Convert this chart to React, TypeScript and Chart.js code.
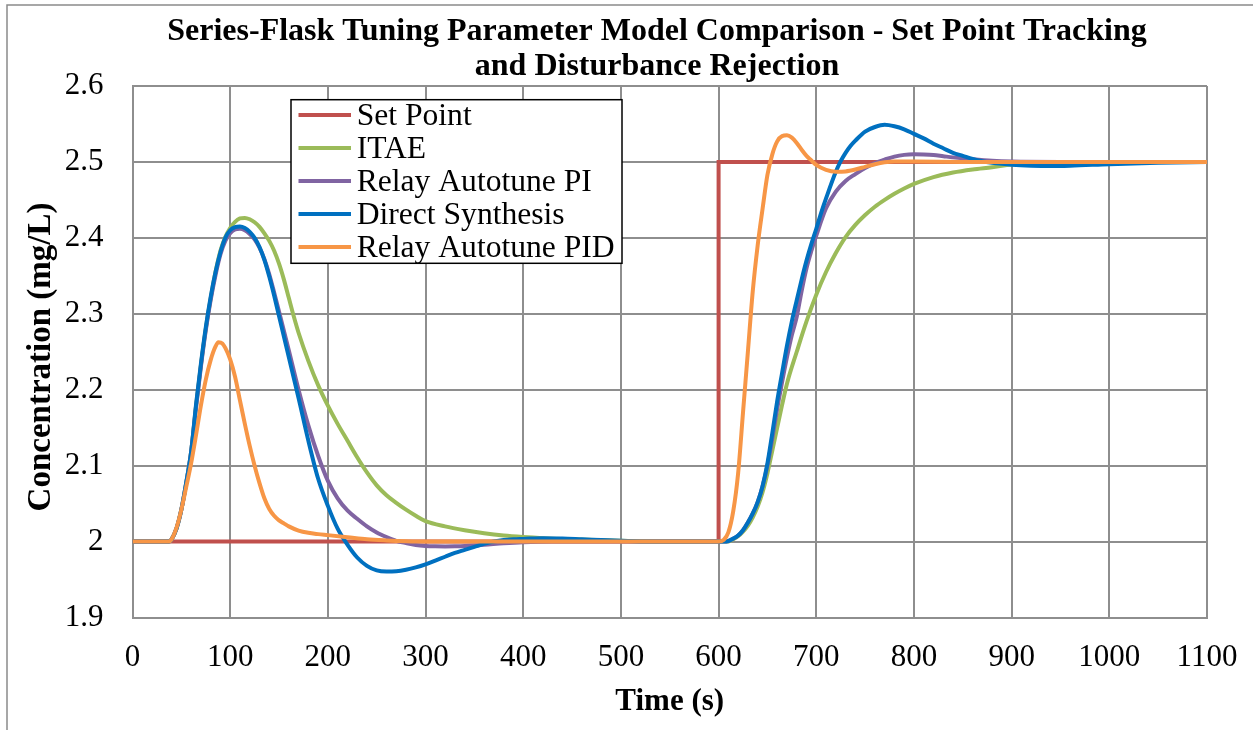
import React, { useEffect, useRef } from 'react';
import { Chart, registerables } from 'chart.js';

Chart.register(...registerables);

const TITLE_LINES = ['Series-Flask Tuning Parameter Model Comparison - Set Point Tracking', 'and Disturbance Rejection'];
const X_TITLE = 'Time (s)';
const Y_TITLE = 'Concentration (mg/L)';
const SERIES_NAMES = ['Set Point', 'ITAE', 'Relay Autotune PI', 'Direct Synthesis', 'Relay Autotune PID'];
const SERIES_COLORS = ['#C0504D', '#9BBB59', '#8064A2', '#0070C0', '#F79646'];

const X_MIN = 0;
const X_MAX = 1100;
const X_STEP = 100;
const Y_MIN = 1.9;
const Y_MAX = 2.6;
const Y_STEP = 0.1;

// Set Point
const SP_T = [0, 600, 600, 1100];
const SP_V = [2, 2, 2.5, 2.5];

// ITAE
const ITAE_T = [0, 30, 37, 40, 45, 50, 55, 60, 65, 70, 75, 80, 85, 90, 95, 100, 105, 110, 115, 120, 125, 130, 135, 140, 145, 150, 155, 160, 165, 170, 180, 190, 200, 210, 220, 230, 240, 250, 260, 270, 280, 290, 300, 320, 340, 360, 380, 400, 420, 450, 500, 550, 600, 610, 615, 620, 625, 630, 635, 640, 645, 650, 655, 660, 665, 670, 680, 690, 700, 710, 720, 730, 740, 750, 760, 770, 780, 790, 800, 820, 840, 860, 880, 900, 920, 950, 1000, 1050, 1100];
const ITAE_V = [2, 2, 2, 2.003, 2.017, 2.042, 2.077, 2.118, 2.178, 2.232, 2.28, 2.32, 2.355, 2.383, 2.401, 2.413, 2.421, 2.4255, 2.4263, 2.4245, 2.4205, 2.4145, 2.406, 2.396, 2.383, 2.366, 2.345, 2.321, 2.297, 2.275, 2.238, 2.206, 2.179, 2.155, 2.133, 2.111, 2.091, 2.074, 2.061, 2.051, 2.042, 2.034, 2.027, 2.02, 2.015, 2.011, 2.008, 2.006, 2.0045, 2.003, 2.001, 2.0, 2.0, 2.0, 2.003, 2.007, 2.013, 2.021, 2.032, 2.046, 2.065, 2.09, 2.12, 2.15, 2.18, 2.208, 2.25, 2.29, 2.325, 2.355, 2.38, 2.401, 2.417, 2.43, 2.441, 2.45, 2.458, 2.465, 2.471, 2.48, 2.486, 2.49, 2.493, 2.4965, 2.498, 2.499, 2.5, 2.5, 2.5];

// Relay Autotune PI
const PI_T = [0, 30, 37, 40, 45, 50, 55, 60, 65, 70, 75, 80, 85, 90, 95, 100, 105, 110, 115, 120, 125, 130, 135, 140, 145, 150, 160, 170, 180, 190, 200, 210, 220, 230, 240, 250, 260, 270, 280, 290, 300, 310, 320, 330, 340, 360, 380, 400, 430, 500, 600, 608, 615, 620, 625, 630, 635, 640, 645, 650, 655, 660, 665, 670, 675, 680, 685, 690, 695, 700, 710, 720, 730, 740, 750, 760, 770, 780, 790, 800, 810, 820, 830, 840, 860, 880, 900, 950, 1000, 1100];
const PI_V = [2, 2, 2, 2.003, 2.017, 2.042, 2.077, 2.118, 2.176, 2.23, 2.278, 2.318, 2.351, 2.378, 2.396, 2.406, 2.411, 2.412, 2.41, 2.405, 2.398, 2.387, 2.372, 2.352, 2.328, 2.303, 2.252, 2.2, 2.153, 2.113, 2.08, 2.057, 2.041, 2.03, 2.02, 2.012, 2.006, 2.001, 1.998, 1.9955, 1.9942, 1.9937, 1.9936, 1.9938, 1.9942, 1.9958, 1.9978, 1.9992, 2.0, 2.0, 2.0, 2.0, 2.004, 2.008, 2.015, 2.025, 2.037, 2.052, 2.073, 2.1, 2.136, 2.175, 2.21, 2.243, 2.272, 2.296, 2.33, 2.36, 2.383, 2.403, 2.439, 2.461, 2.475, 2.484, 2.492, 2.4985, 2.503, 2.507, 2.5093, 2.51, 2.5097, 2.509, 2.5075, 2.506, 2.5035, 2.5015, 2.5005, 2.5, 2.5, 2.5];

// Direct Synthesis
const DS_T = [0, 30, 37, 40, 45, 50, 55, 60, 65, 70, 75, 80, 85, 90, 95, 100, 105, 110, 115, 120, 125, 130, 135, 140, 145, 150, 160, 170, 180, 190, 200, 210, 220, 230, 240, 250, 260, 270, 280, 290, 300, 310, 320, 330, 340, 350, 360, 370, 380, 390, 400, 420, 440, 460, 480, 500, 530, 600, 608, 615, 620, 625, 630, 635, 640, 645, 650, 655, 660, 665, 670, 675, 680, 685, 690, 695, 700, 705, 710, 720, 725, 730, 735, 740, 750, 760, 770, 780, 790, 800, 810, 820, 830, 840, 850, 860, 870, 880, 890, 900, 920, 940, 960, 1000, 1050, 1100];
const DS_V = [2, 2, 2, 2.003, 2.017, 2.042, 2.078, 2.118, 2.18, 2.234, 2.282, 2.322, 2.355, 2.381, 2.4, 2.41, 2.414, 2.415, 2.413, 2.408, 2.4, 2.388, 2.371, 2.349, 2.324, 2.297, 2.243, 2.189, 2.133, 2.083, 2.047, 2.017, 1.996, 1.979, 1.968, 1.962, 1.9605, 1.961, 1.963, 1.966, 1.97, 1.975, 1.98, 1.985, 1.989, 1.993, 1.997, 2.0, 2.002, 2.003, 2.0035, 2.0045, 2.004, 2.003, 2.002, 2.001, 2.0, 2.0, 2.0, 2.004, 2.008, 2.015, 2.025, 2.037, 2.052, 2.073, 2.103, 2.143, 2.185, 2.222, 2.258, 2.29, 2.318, 2.345, 2.37, 2.392, 2.412, 2.433, 2.452, 2.487, 2.501, 2.512, 2.521, 2.528, 2.54, 2.546, 2.549, 2.547, 2.543, 2.537, 2.531, 2.524, 2.518, 2.512, 2.508, 2.504, 2.501, 2.499, 2.4975, 2.4963, 2.495, 2.4945, 2.495, 2.497, 2.499, 2.5];

// Relay Autotune PID
const PID_T = [0, 30, 37, 40, 45, 50, 55, 60, 65, 70, 75, 80, 85, 88, 92, 95, 100, 105, 110, 115, 120, 125, 130, 135, 140, 145, 150, 155, 160, 170, 180, 190, 200, 220, 240, 260, 280, 300, 600, 605, 610, 615, 620, 625, 630, 635, 640, 645, 650, 655, 660, 665, 670, 675, 680, 685, 690, 695, 700, 710, 720, 730, 740, 750, 760, 770, 780, 800, 850, 1100];
const PID_V = [2, 2, 2, 2.003, 2.018, 2.042, 2.072, 2.103, 2.14, 2.179, 2.213, 2.239, 2.257, 2.2625, 2.261, 2.255, 2.24, 2.217, 2.186, 2.155, 2.126, 2.1, 2.077, 2.057, 2.043, 2.034, 2.028, 2.024, 2.02, 2.0145, 2.0115, 2.0098, 2.0085, 2.0058, 2.003, 2.0015, 2.0005, 2.0, 2.0, 2.002, 2.012, 2.04, 2.09, 2.17, 2.25, 2.33, 2.39, 2.438, 2.483, 2.51, 2.527, 2.534, 2.535, 2.532, 2.525, 2.516, 2.508, 2.502, 2.496, 2.4895, 2.487, 2.4875, 2.49, 2.4935, 2.497, 2.4995, 2.5005, 2.5005, 2.5, 2.5];

const SERIES_T = [SP_T, ITAE_T, PI_T, DS_T, PID_T];
const SERIES_V = [SP_V, ITAE_V, PI_V, DS_V, PID_V];

const FONT = "'Liberation Serif', 'Times New Roman', serif";
const GRID = '#8e8e8e';

const decorPlugin = {
  id: 'decor',
  beforeDraw(chart: any) {
    const ctx = chart.ctx;
    ctx.save();
    ctx.fillStyle = '#ffffff';
    ctx.fillRect(0, 0, chart.width, chart.height);
    ctx.strokeStyle = '#8a8a8a';
    ctx.lineWidth = 1.5;
    ctx.beginPath();
    ctx.moveTo(7, chart.height + 5);
    ctx.lineTo(7, 5);
    ctx.lineTo(chart.width + 5, 5);
    ctx.stroke();
    ctx.restore();
  },
  afterDraw(chart: any) {
    const ctx = chart.ctx;
    const ca = chart.chartArea;
    ctx.save();
    ctx.fillStyle = '#000';
    // Title
    ctx.font = `bold 32px ${FONT}`;
    ctx.textAlign = 'center';
    ctx.textBaseline = 'alphabetic';
    ctx.fillText(TITLE_LINES[0], 657, 39.5);
    ctx.fillText(TITLE_LINES[1], 657, 74.5);
    // Axis titles
    ctx.font = `bold 31px ${FONT}`;
    ctx.fillText(X_TITLE, (ca.left + ca.right) / 2, 710);
    ctx.save();
    ctx.font = `bold 33px ${FONT}`;
    ctx.translate(50, 357);
    ctx.rotate(-Math.PI / 2);
    ctx.fillText(Y_TITLE, 0, 0);
    ctx.restore();
    // Legend
    const lx = ca.left + 158.5;
    const ly = ca.top + 13.7;
    const lw = 331;
    const lh = 163.6;
    ctx.fillStyle = '#fff';
    ctx.fillRect(lx, ly, lw, lh);
    ctx.strokeStyle = '#000';
    ctx.lineWidth = 1.5;
    ctx.strokeRect(lx, ly, lw, lh);
    ctx.font = `31.6px ${FONT}`;
    ctx.textAlign = 'left';
    for (let i = 0; i < SERIES_NAMES.length; i++) {
      const base = ly + 25.3 + 33 * i;
      ctx.strokeStyle = SERIES_COLORS[i];
      ctx.lineWidth = 4;
      ctx.beginPath();
      ctx.moveTo(lx + 7.5, base - 10);
      ctx.lineTo(lx + 60, base - 10);
      ctx.stroke();
      ctx.fillStyle = '#000';
      ctx.fillText(SERIES_NAMES[i], lx + 65.7, base);
    }
    ctx.restore();
  },
};

export default function App() {
  const ref = useRef<HTMLCanvasElement | null>(null);
  useEffect(() => {
    if (!ref.current) return;
    const datasets = SERIES_NAMES.map((name, i) => ({
      label: name,
      data: SERIES_T[i].map((t, j) => ({ x: t, y: SERIES_V[i][j] })),
      borderColor: SERIES_COLORS[i],
      backgroundColor: SERIES_COLORS[i],
      borderWidth: 4,
      pointRadius: 0,
      fill: false,
      tension: i === 0 ? 0 : 0.4,
      cubicInterpolationMode: i === 0 ? 'default' : 'monotone',
      order: SERIES_NAMES.length - i,
    }));
    const chart = new Chart(ref.current, {
      type: 'line',
      data: { datasets } as any,
      options: {
        responsive: false,
        animation: false,
        devicePixelRatio: 1,
        layout: { padding: { top: 86, left: 0, right: 46, bottom: 0 } },
        plugins: {
          legend: { display: false },
          title: { display: false },
          tooltip: { enabled: false },
        },
        scales: {
          x: {
            type: 'linear',
            min: X_MIN,
            max: X_MAX,
            grid: { color: GRID, lineWidth: 2, drawTicks: false },
            border: { color: GRID, width: 2 },
            ticks: {
              stepSize: X_STEP,
              autoSkip: false,
              maxRotation: 0,
              padding: 22,
              color: '#000',
              font: { family: FONT, size: 31 },
              callback: (v: any) => String(Math.round(Number(v))),
            },
            afterFit: (s: any) => {
              s.height = 112.5;
              s.paddingLeft = 0;
              s.paddingRight = 0;
            },
          },
          y: {
            type: 'linear',
            min: Y_MIN,
            max: Y_MAX,
            grid: { color: GRID, lineWidth: 2, drawTicks: false },
            border: { color: GRID, width: 2 },
            ticks: {
              stepSize: Y_STEP,
              padding: 29,
              color: '#000',
              font: { family: FONT, size: 31 },
              callback: (v: any) => String(Number(Number(v).toFixed(1))),
            },
            afterFit: (s: any) => {
              s.width = 132.5;
              s.paddingTop = 0;
              s.paddingBottom = 0;
            },
          },
        },
      } as any,
      plugins: [decorPlugin],
    });
    return () => chart.destroy();
  }, []);
  return (
    <div style={{ position: 'fixed', left: 0, top: 0, width: 1253, height: 730, overflow: 'hidden', background: '#fff' }}>
      <canvas ref={ref} width={1253} height={730} style={{ width: 1253, height: 730, display: 'block' }} />
    </div>
  );
}
